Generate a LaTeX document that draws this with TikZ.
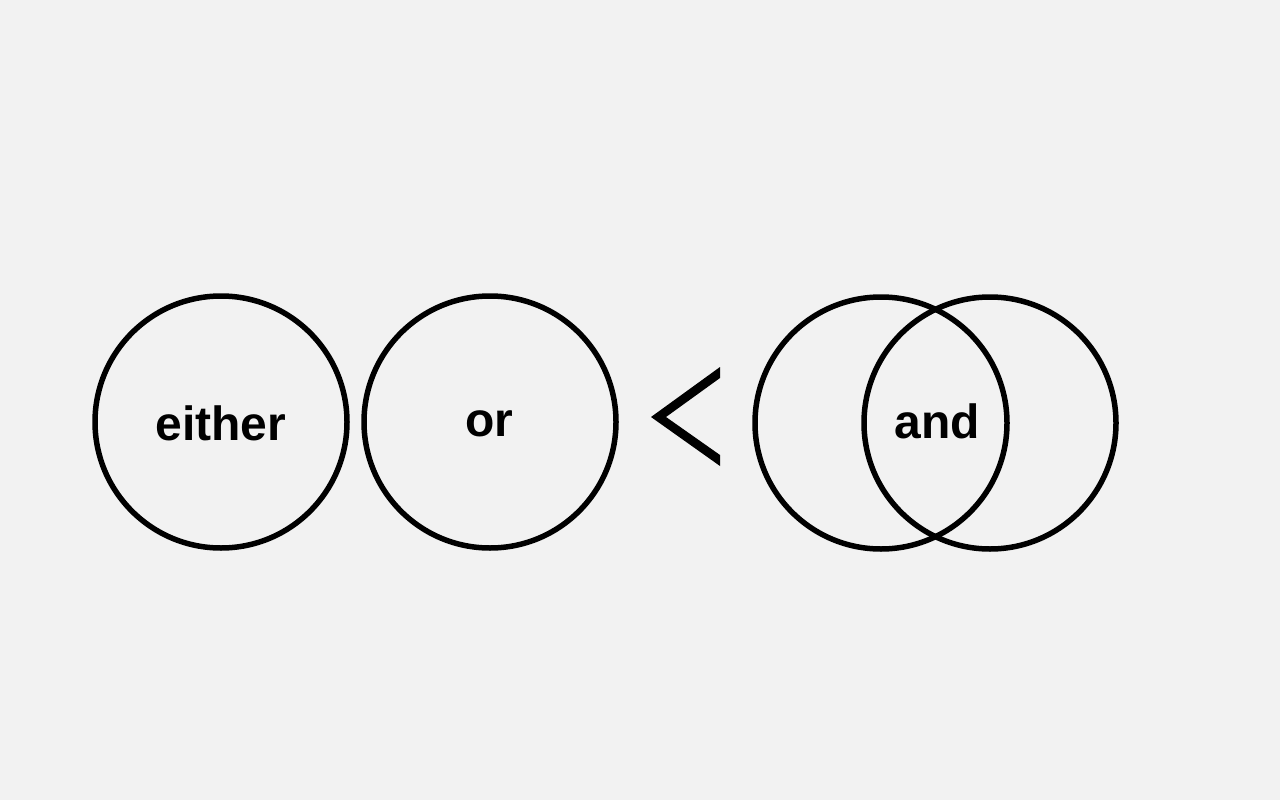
\documentclass[tikz,border=0pt]{standalone}
\usepackage{fontspec}
\setmainfont{Liberation Sans}
\usepackage{tikz}
\usetikzlibrary{positioning}

\definecolor{fond}{HTML}{F2F2F2}

\tikzset{
  rond/.style={circle,draw=black,line width=5.5pt,minimum size=252pt,inner sep=0pt},
  mot/.style={anchor=base,inner sep=0pt,font=\fontsize{48}{58}\selectfont\bfseries}
}

\begin{document}
\begin{tikzpicture}[x=1pt,y=-1pt]
% fond et cadre
\fill[fond] (0,0) rectangle (1280,800);
\useasboundingbox (0,0) rectangle (1280,800);
% les cercles
\node (E) at (221,422) [rond] {};
\node (O) at (490,422) [rond] {};
\node (A1) at (881,423) [rond] {};
\node (A2) at (990,423) [rond] {};
% les mots
\node (tE) at (221,440) [mot] {either};
\node (tO) at (489,436) [mot] {or};
\node (tA) at (937,438) [mot] {and};
% le signe inferieur
\fill[black] (720,367) -- (651,417) -- (720,466) -- (720,455) -- (666,417) -- (720,378) -- cycle;
\end{tikzpicture}
\end{document}
